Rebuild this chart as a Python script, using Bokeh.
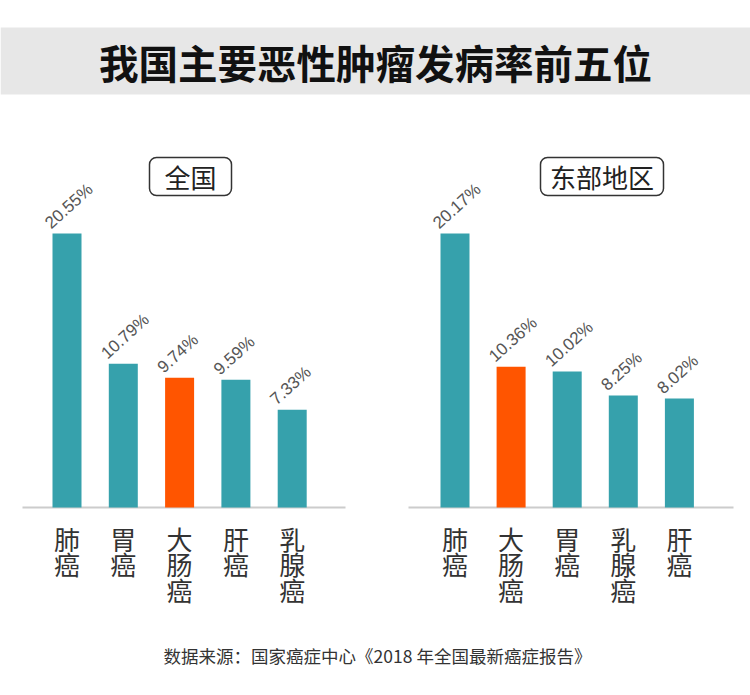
import math
from bokeh.plotting import figure
from bokeh.models import Range1d, ColumnDataSource
from bokeh.layouts import column, row
from bokeh.embed import file_html
from bokeh.resources import INLINE
from bokeh.core.properties import value

# ---------------- data ----------------
title_text = "我国主要恶性肿瘤发病率前五位"
source_note = "数据来源：国家癌症中心《2018 年全国最新癌症报告》"

national_label = "全国"
national_cats = ["肺癌", "胃癌", "大肠癌", "肝癌", "乳腺癌"]
national_vals = [20.55, 10.79, 9.74, 9.59, 7.33]

east_label = "东部地区"
east_cats = ["肺癌", "大肠癌", "胃癌", "乳腺癌", "肝癌"]
east_vals = [20.17, 10.36, 10.02, 8.25, 8.02]

highlight_cat = "大肠癌"

# ---------------- style / layout ----------------
TEAL = "#36a1ac"
ORANGE = "#ff5500"
CJK = "Noto Sans CJK SC"
PAGE_L, PAGE_R, PAGE_T, PAGE_B = 0, 750, 0, 695
HEADER_B = 110
CHART_B = 625
BASE_Y = 507          # page y of the baseline
TALLEST_PX = 274      # pixel height of the tallest bar
BAR_PX = 29


def base_fig(w, h, xr, yr):
    p = figure(width=w, height=h, x_range=xr, y_range=yr,
               output_backend="svg", toolbar_location=None,
               x_axis_location=None, y_axis_location=None,
               min_border=0, outline_line_color=None,
               background_fill_color="white", border_fill_color="white")
    p.grid.visible = False
    return p


def make_panel(label, cats, vals, px0, px1, c0, step, line_x, box):
    k = TALLEST_PX / max(vals)
    fx = lambda px: (px - c0) / step
    fy = lambda py: (BASE_Y - py) / k
    p = base_fig(px1 - px0, CHART_B - HEADER_B,
                 Range1d(fx(px0), fx(px1)), Range1d(fy(CHART_B), fy(HEADER_B)))
    bw = BAR_PX / step
    xs = list(range(len(cats)))
    src = ColumnDataSource(dict(
        x=xs,
        left=[x - bw / 2 for x in xs],
        top=vals,
        color=[ORANGE if c == highlight_cat else TEAL for c in cats],
        lab=[f"{v:.2f}%" for v in vals],
        cat=["\n".join(c) for c in cats],
    ))
    # baseline
    p.segment(x0=fx(line_x[0]), x1=fx(line_x[1]), y0=0, y1=0,
              line_color="#cccccc", line_width=2)
    p.vbar(x="x", top="top", bottom=0, width=bw, fill_color="color",
           line_color=None, source=src)
    # value labels
    p.text(x="left", y="top", text="lab", source=src, angle=math.radians(42),
           text_align="left", text_baseline="alphabetic", x_offset=-5, y_offset=-8,
           text_font=value("Liberation Sans"), text_font_size="17px",
           text_color="#555555")
    # category labels (vertical)
    p.text(x="x", y=0, text="cat", source=src, text_align="center",
           text_baseline="top", y_offset=12, text_line_height=0.69,
           text_font=value(CJK), text_font_size="26px", text_color="#333333")
    # panel label box
    bx0, by0, bx1, by1 = box
    p.quad(left=fx(bx0), right=fx(bx1), top=fy(by0), bottom=fy(by1),
           fill_color=None, line_color="#333333", line_width=1.5,
           border_radius=7)
    p.text(x=[fx((bx0 + bx1) / 2)], y=[fy((by0 + by1) / 2)], text=[label],
           text_align="center", text_baseline="middle",
           text_font=value(CJK), text_font_size="26px", text_color="#222222")
    return p


# header
header = base_fig(PAGE_R - PAGE_L, HEADER_B - PAGE_T,
                  Range1d(PAGE_L, PAGE_R), Range1d(HEADER_B, PAGE_T))
header.quad(left=PAGE_L, right=PAGE_R, top=27, bottom=94,
            fill_color="#e7e7e7", line_color=None)
header.text(x=[375], y=[60.5], text=[title_text], text_align="center",
            text_baseline="middle", text_font=value(CJK),
            text_font_size="39.5px", text_font_style="bold", text_color="#111111")

left = make_panel(national_label, national_cats, national_vals,
                  PAGE_L, 375, 66.5, 56.3, (22, 345), (149, 157, 231, 195))
right = make_panel(east_label, east_cats, east_vals,
                   375, PAGE_R, 454.5, 56.1, (408, 733), (540, 157, 663, 195))

footer = base_fig(PAGE_R - PAGE_L, PAGE_B - CHART_B,
                  Range1d(PAGE_L, PAGE_R), Range1d(PAGE_B, CHART_B))
footer.text(x=[377], y=[655], text=[source_note], text_align="center",
            text_baseline="middle", text_font=value(CJK),
            text_font_size="17.5px", text_color="#333333")

layout = column(header, row(left, right), footer)

open("out.html", "w").write(file_html(layout, INLINE))
